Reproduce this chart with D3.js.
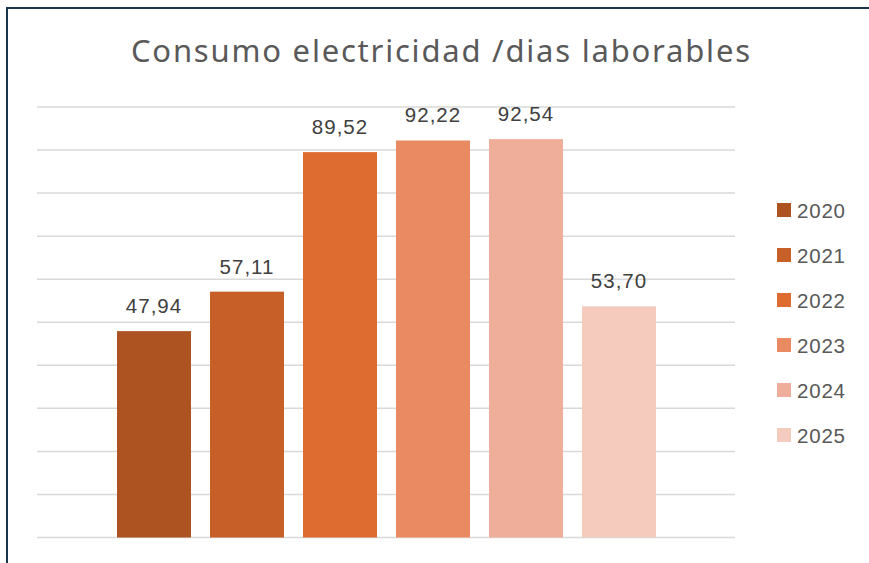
<!DOCTYPE html>
<html>
<head>
<meta charset="utf-8">
<script src="https://cdn.jsdelivr.net/npm/d3@7"></script>
<style>
  body { margin: 0; background: #fff; }
  svg { display: block; font-family: "Liberation Sans", Arial, sans-serif; }
</style>
</head>
<body>
<svg id="grafico" width="869" height="563"></svg>
<script>
// datos del gráfico
var anios = ["2020", "2021", "2022", "2023", "2024", "2025"]
var valores = [47.94, 57.11, 89.52, 92.22, 92.54, 53.70]
var colores = ["#ad5221", "#c65f28", "#de6c30", "#e98a63", "#efae99", "#f4cbbd"]
var titulo = "Consumo electricidad /dias laborables"

var svg = d3.select("#grafico")

// marco (solo arriba e izquierda)
svg.append("line").attr("x1", 7).attr("x2", 869).attr("y1", 8).attr("y2", 8)
  .attr("stroke", "#1d3650").attr("stroke-width", 2)
svg.append("line").attr("x1", 7).attr("x2", 7).attr("y1", 7).attr("y2", 563)
  .attr("stroke", "#1d3650").attr("stroke-width", 2)

// escalas
var x = d3.scaleBand().domain(anios).range([107.5, 665.5]).paddingInner(0.2043).paddingOuter(0.1022)
var y = d3.scaleLinear().domain([0, 100]).range([537.5, 107])

// líneas de cuadrícula
svg.append("g").selectAll("line").data(d3.range(0, 101, 10)).enter().append("line")
  .attr("x1", 37).attr("x2", 735)
  .attr("y1", d => y(d)).attr("y2", d => y(d))
  .attr("stroke", "#d9d9d9").attr("stroke-width", 1.5)

// barras
svg.append("g").selectAll("rect").data(valores).enter().append("rect")
  .attr("x", (d, i) => x(anios[i]))
  .attr("width", x.bandwidth())
  .attr("y", d => y(d))
  .attr("height", d => y(0) - y(d))
  .attr("fill", (d, i) => colores[i])

// etiquetas de valor
svg.append("g").selectAll("text").data(valores).enter().append("text")
  .attr("x", (d, i) => x(anios[i]) + x.bandwidth() / 2)
  .attr("y", d => y(d) - 18)
  .attr("text-anchor", "middle")
  .attr("font-size", 20.5)
  .attr("letter-spacing", 1)
  .attr("fill", "#404040")
  .text(d => d.toFixed(2).replace(".", ","))

// título
svg.append("text").attr("x", 131).attr("y", 62)
  .attr("font-family", "'Noto Sans', sans-serif")
  .attr("font-size", 31).attr("fill", "#595959")
  .attr("textLength", 619).attr("lengthAdjust", "spacing")
  .text(titulo)

// leyenda
var leyenda = svg.append("g").selectAll("g").data(anios).enter().append("g")
  .attr("transform", (d, i) => "translate(777," + (203 + i * 45) + ")")
leyenda.append("rect").attr("width", 14).attr("height", 14).attr("fill", (d, i) => colores[i])
leyenda.append("text").attr("x", 20).attr("y", 14.5)
  .attr("font-size", 20.5).attr("letter-spacing", 0.8).attr("fill", "#595959").text(d => d)
</script>
</body>
</html>
